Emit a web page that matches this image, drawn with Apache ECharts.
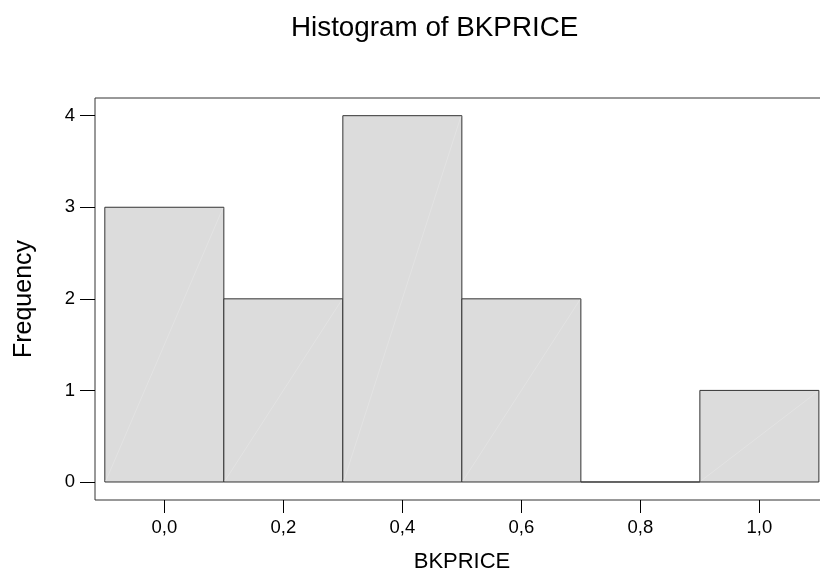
<!DOCTYPE html>
<html>
<head>
<meta charset="utf-8">
<script src="https://cdn.jsdelivr.net/npm/echarts@6/dist/echarts.min.js"></script>
<style>html,body{margin:0;padding:0;background:#fff}#c{width:820px;height:576px}</style>
</head>
<body>
<div id="c"></div>
<script>
const binStarts = [-0.1, 0.1, 0.3, 0.5, 0.7, 0.9];
const binWidth = 0.2;
const counts = [3, 2, 4, 2, 0, 1];
const xTicks = [0, 0.2, 0.4, 0.6, 0.8, 1.0];
const yTicks = [0, 1, 2, 3, 4];

const FONT = '"Liberation Sans", Arial, sans-serif';
const chart = echarts.init(document.getElementById('c'), null, {renderer: 'canvas'});
const data = binStarts.map((s, i) => [s, s + binWidth, counts[i]]);

chart.setOption({
  animation: false,
  backgroundColor: '#fff',
  title: {
    text: 'Histogram of BKPRICE',
    left: 286, top: 9,
    textStyle: {fontFamily: FONT, fontSize: 27.8, fontWeight: 'normal', color: '#000'}
  },
  grid: {left: 95, top: 98, width: 734, height: 402, outerBoundsMode: 'none', containLabel: false,
    show: true, borderColor: '#333', borderWidth: 1, backgroundColor: '#fff'},
  xAxis: {
    type: 'value', min: -0.1165, max: 1.117,
    axisLine: {show: false, onZero: false},
    splitLine: {show: false},
    axisTick: {show: true, length: 13, lineStyle: {color: '#000'}, customValues: xTicks},
    axisLabel: {margin: 18, color: '#000', fontFamily: FONT, fontSize: 18.5, customValues: xTicks,
      formatter: v => v.toFixed(1).replace('.', ',')},
    name: 'BKPRICE', nameLocation: 'middle', nameGap: 51,
    nameTextStyle: {fontFamily: FONT, fontSize: 22, color: '#000'}
  },
  yAxis: {
    type: 'value', min: -0.1966, max: 4.193,
    axisLine: {show: false, onZero: false},
    splitLine: {show: false},
    axisTick: {show: true, length: 15, lineStyle: {color: '#000'}, customValues: yTicks},
    axisLabel: {margin: 20, color: '#000', fontFamily: FONT, fontSize: 18.5, customValues: yTicks},
    name: 'Frequency', nameLocation: 'middle', nameGap: 58,
    nameTextStyle: {fontFamily: FONT, fontSize: 25, color: '#000'}
  },
  series: [{
    type: 'custom',
    data: data,
    renderItem: function (params, api) {
      const x0 = api.value(0), x1 = api.value(1), c = api.value(2);
      const p0 = api.coord([x0, 0]);
      const p1 = api.coord([x1, c]);
      const children = [{
        type: 'rect',
        shape: {x: p0[0], y: p1[1], width: p1[0] - p0[0], height: p0[1] - p1[1]},
        style: {fill: '#dcdcdc', stroke: '#333', lineWidth: 1}
      }];
      if (c > 0) {
        children.push({
          type: 'line',
          shape: {x1: p0[0] + 1, y1: p0[1] - 1, x2: p1[0] - 1, y2: p1[1] + 1},
          style: {stroke: '#e3e3e3', lineWidth: 1}
        });
      }
      return {type: 'group', children: children};
    }
  }]
});
</script>
</body>
</html>
